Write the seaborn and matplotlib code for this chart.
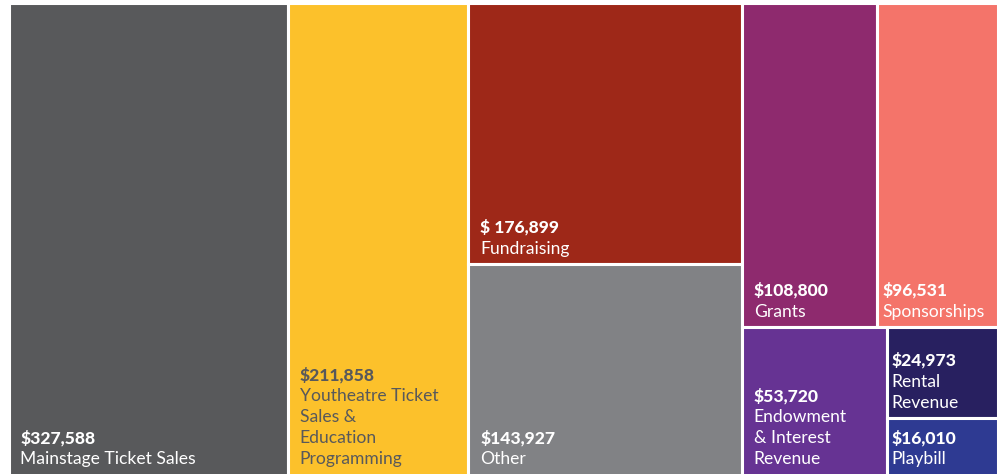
import matplotlib
matplotlib.use("Agg")
import matplotlib.pyplot as plt
from matplotlib.patches import Rectangle
import seaborn as sns

# revenue categories
labels = [
    "Mainstage Ticket Sales",
    "Youtheatre Ticket\nSales &\nEducation\nProgramming",
    "Fundraising",
    "Other",
    "Grants",
    "Sponsorships",
    "Endowment\n& Interest\nRevenue",
    "Rental\nRevenue",
    "Playbill",
]
values = [327588, 211858, 176899, 143927, 108800, 96531, 53720, 24973, 16010]
value_text = ["$327,588", "$211,858", "$ 176,899", "$143,927", "$108,800",
              "$96,531", "$53,720", "$24,973", "$16,010"]
colors = ["#58595B", "#FCC12B", "#9E2818", "#818285", "#8E2A6E",
          "#F4746A", "#663393", "#282060", "#2E3A92"]
text_colors = ["white", "#58595B", "white", "white", "white",
               "white", "white", "white", "white"]

# nesting of the tiles: 'h' splits left to right, 'v' top to bottom
layout = ("h", [0, 1, ("v", [2, 3]),
                ("v", [("h", [4, 5]), ("h", [6, ("v", [7, 8])])])])


def node_total(node):
    if isinstance(node, int):
        return values[node]
    return sum(node_total(c) for c in node[1])


def place(node, x, y, w, h, out):
    # y is the top edge, axis runs upward
    if isinstance(node, int):
        out[node] = (x, y - h, w, h)
        return
    kind, children = node
    total = node_total(node)
    for c in children:
        share = node_total(c) / total
        if kind == "h":
            place(c, x, y, w * share, h, out)
            x += w * share
        else:
            place(c, x, y, w, h * share, out)
            y -= h * share


sns.set_theme(style="white")
plt.rcParams["font.family"] = ["Lato", "DejaVu Sans"]

W, H = 989.0, 473.5
fig = plt.figure(figsize=(10.05, 4.74), dpi=100)
ax = fig.add_axes([8.5 / 1005, -2.0 / 474, W / 1005, H / 474])
ax.set_xlim(0, W)
ax.set_ylim(0, H)
ax.axis("off")

tiles = {}
place(layout, 0, H, W, H, tiles)

line_h = 21
for i in range(len(values)):
    x0, y0, w, h = tiles[i]
    ax.add_patch(Rectangle((x0, y0), w, h, facecolor=colors[i],
                           edgecolor="white", linewidth=2.2))
    pad = 12 if w > 130 else 5
    lines = labels[i].split("\n")
    base = 10 if y0 > 1 else 12
    for k, line in enumerate(reversed(lines)):
        ax.annotate(line, (x0, y0), xytext=(pad, base + k * line_h),
                    textcoords="offset pixels", ha="left", va="baseline",
                    fontsize=12.6, color=text_colors[i])
    ax.annotate(value_text[i], (x0, y0),
                xytext=(pad, base + len(lines) * line_h),
                textcoords="offset pixels", ha="left", va="baseline",
                fontsize=12.6, fontweight="black", color=text_colors[i])

fig.savefig("out.png", dpi=100)
